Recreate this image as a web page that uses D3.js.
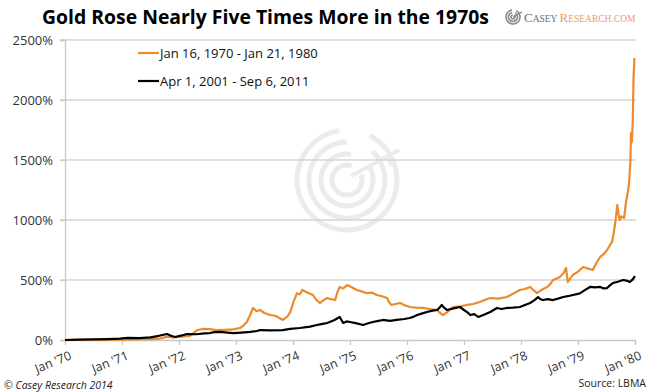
<!DOCTYPE html>
<html>
<head>
<meta charset="utf-8">
<script src="https://cdn.jsdelivr.net/npm/d3@7"></script>
<style>
  body { margin: 0; background: #fff; }
  text { font-family: "Open Sans", sans-serif; }
</style>
</head>
<body>
<div id="chart"></div>
<script>
// set the dimensions of the graph
const width = 653
const height = 392

// tick labels
const yTicks = [0, 500, 1000, 1500, 2000, 2500]
const xTickLabels = ["Jan '70", "Jan '71", "Jan '72", "Jan '73", "Jan '74", "Jan '75",
                     "Jan '76", "Jan '77", "Jan '78", "Jan '79", "Jan '80"]

// series names
const seriesNames = ["Jan 16, 1970 - Jan 21, 1980", "Apr 1, 2001 - Sep 6, 2011"]

// orange series: [years since start, % gain]
const gold70s = [
  [0, 0], [0.2, 1], [0.44, 2], [0.7, 1], [0.96, 3], [1.2, 6], [1.49, 8], [1.67, 12],
  [1.73, 20], [1.79, 27], [1.9, 22], [2.0, 25], [2.1, 30], [2.19, 35], [2.26, 60],
  [2.32, 83], [2.42, 92], [2.54, 90], [2.65, 82], [2.81, 85], [2.95, 88], [3.07, 100],
  [3.13, 120], [3.19, 150], [3.24, 200], [3.30, 267], [3.36, 240], [3.42, 250],
  [3.5, 225], [3.6, 208], [3.7, 200], [3.82, 167], [3.9, 195], [3.95, 230], [4.01, 320],
  [4.07, 390], [4.12, 380], [4.16, 417], [4.25, 395], [4.35, 375], [4.4, 340],
  [4.47, 308], [4.53, 330], [4.6, 350], [4.67, 340], [4.74, 333], [4.78, 400],
  [4.82, 442], [4.88, 430], [4.95, 458], [5.03, 440], [5.12, 417], [5.2, 405],
  [5.3, 390], [5.38, 395], [5.47, 375], [5.56, 365], [5.65, 350], [5.68, 320],
  [5.72, 292], [5.8, 300], [5.88, 308], [5.96, 290], [6.05, 275], [6.15, 270],
  [6.28, 267], [6.4, 258], [6.53, 250], [6.58, 225], [6.63, 208], [6.7, 230],
  [6.81, 275], [6.93, 280], [7.05, 292], [7.16, 300], [7.28, 317], [7.37, 335],
  [7.46, 350], [7.6, 345], [7.75, 358], [7.86, 385], [7.98, 417], [8.07, 425],
  [8.16, 442], [8.22, 415], [8.28, 390], [8.37, 420], [8.46, 442], [8.52, 470],
  [8.56, 500], [8.62, 510], [8.68, 525], [8.75, 560], [8.79, 600], [8.82, 483],
  [8.86, 510], [8.91, 542], [9.0, 570], [9.09, 608], [9.18, 595], [9.26, 583],
  [9.32, 640], [9.39, 692], [9.45, 715], [9.51, 750], [9.56, 790], [9.6, 820],
  [9.63, 900], [9.66, 1000], [9.69, 1125], [9.71, 1050], [9.73, 1000], [9.76, 1030],
  [9.81, 1017], [9.84, 1142], [9.88, 1250], [9.9, 1333], [9.92, 1500], [9.93, 1725],
  [9.945, 1650], [9.96, 1808], [9.975, 2192], [9.99, 2350]
]

// black series: [years since start, % gain]
const gold00s = [
  [0, 0], [0.25, 3], [0.5, 5], [0.75, 8], [0.96, 12], [1.1, 17], [1.3, 15], [1.5, 22],
  [1.65, 35], [1.79, 50], [1.86, 35], [1.93, 25], [2.05, 38], [2.14, 50], [2.3, 48],
  [2.45, 55], [2.54, 58], [2.62, 65], [2.72, 67], [2.85, 62], [2.95, 58], [3.1, 62],
  [3.25, 67], [3.37, 75], [3.42, 83], [3.6, 80], [3.82, 83], [3.95, 92], [4.12, 100],
  [4.3, 112], [4.42, 125], [4.52, 135], [4.6, 142], [4.72, 165], [4.82, 192],
  [4.88, 142], [4.94, 155], [5.0, 150], [5.12, 138], [5.23, 125], [5.32, 140],
  [5.4, 150], [5.5, 160], [5.58, 167], [5.7, 160], [5.82, 167], [5.95, 175],
  [6.05, 183], [6.12, 195], [6.18, 208], [6.27, 222], [6.35, 233], [6.45, 245],
  [6.53, 250], [6.58, 275], [6.61, 292], [6.66, 265], [6.7, 250], [6.8, 262],
  [6.93, 275], [7.0, 250], [7.06, 230], [7.11, 208], [7.18, 215], [7.25, 192],
  [7.35, 210], [7.46, 233], [7.52, 250], [7.58, 267], [7.66, 258], [7.75, 267],
  [7.86, 270], [7.98, 275], [8.07, 292], [8.16, 308], [8.23, 330], [8.3, 358],
  [8.34, 340], [8.39, 333], [8.47, 340], [8.56, 333], [8.65, 345], [8.74, 358],
  [8.82, 365], [8.91, 375], [8.98, 382], [9.04, 390], [9.12, 415], [9.21, 442],
  [9.3, 438], [9.39, 442], [9.45, 430], [9.51, 433], [9.56, 455], [9.61, 475],
  [9.7, 485], [9.79, 500], [9.85, 495], [9.91, 483], [9.96, 505], [10.0, 533]
]

const orange = "#ec8a2d"

const svg = d3.select("#chart")
  .append("svg")
    .attr("width", width)
    .attr("height", height)

const x = d3.scaleLinear().domain([0, 10]).range([65, 635])
const y = d3.scaleLinear().domain([0, 2500]).range([340, 40])

// watermark (spiral rings)
const wm = svg.append("g")
  .attr("transform", "translate(347,180)")
  .attr("fill", "none")
  .attr("stroke", "#ebebeb")
  .attr("stroke-width", 5)
const rings = [50, 38, 26, 15]
rings.forEach((r, i) => {
  const start = Math.PI * (0.15 + i * 0.08)
  const end = Math.PI * (1.95 + i * 0.05)
  const p = d3.path()
  p.arc(0, 0, r, start - Math.PI / 2, end - Math.PI / 2)
  wm.append("path").attr("d", p.toString())
})
wm.append("line")
  .attr("x1", 4).attr("y1", -4).attr("x2", 52).attr("y2", -30)
  .attr("stroke-width", 4)
wm.append("line")
  .attr("x1", 40).attr("y1", -24).attr("x2", 44).attr("y2", -14)
  .attr("stroke-width", 3)

// horizontal gridlines
svg.append("g")
  .selectAll("line")
  .data(yTicks.filter(d => d > 0))
  .join("line")
    .attr("x1", 60)
    .attr("x2", 636)
    .attr("y1", d => y(d))
    .attr("y2", d => y(d))
    .attr("stroke", "#d4d4d4")
    .attr("stroke-width", 1.3)

// left axis
const yAxis = svg.append("g")
  .attr("transform", "translate(65,0)")
  .call(d3.axisLeft(y).tickValues(yTicks).tickSize(5).tickPadding(7).tickFormat(d => d + "%"))
yAxis.select(".domain").attr("stroke", "#c8c8c8").attr("stroke-width", 1.3)
yAxis.selectAll(".tick line").attr("stroke", "#c8c8c8").attr("stroke-width", 1.3)
yAxis.selectAll("text")
  .attr("font-size", 13)
  .attr("fill", "#333")
  .style("font-family", "'Open Sans', sans-serif")

// bottom axis
const xAxis = svg.append("g")
  .attr("transform", "translate(0,340)")
  .call(d3.axisBottom(x).tickValues(d3.range(0, 11)).tickSize(5).tickFormat(""))
xAxis.select(".domain").attr("stroke", "#c8c8c8").attr("stroke-width", 1.3)
xAxis.selectAll(".tick line").attr("stroke", "#c8c8c8").attr("stroke-width", 1.3)

svg.append("g")
  .selectAll("text")
  .data(xTickLabels)
  .join("text")
    .attr("transform", (d, i) => `translate(${x(i) - 12},362) rotate(-22)`)
    .attr("text-anchor", "middle")
    .attr("dy", "0.35em")
    .attr("font-size", 12.5)
    .attr("fill", "#333")
    .text(d => d)

// lines
const line = d3.line()
  .x(d => x(d[0]))
  .y(d => y(d[1]))

svg.append("path")
  .datum(gold70s)
  .attr("fill", "none")
  .attr("stroke", orange)
  .attr("stroke-width", 2.2)
  .attr("stroke-linejoin", "round")
  .attr("d", line)

svg.append("path")
  .datum(gold00s)
  .attr("fill", "none")
  .attr("stroke", "#000")
  .attr("stroke-width", 2.2)
  .attr("stroke-linejoin", "round")
  .attr("d", line)

// legend
const legend = svg.append("g")
  .selectAll("g")
  .data(seriesNames)
  .join("g")
    .attr("transform", (d, i) => `translate(138,${53 + i * 28})`)
legend.append("line")
  .attr("x1", 0).attr("x2", 21)
  .attr("stroke", (d, i) => i === 0 ? orange : "#000")
  .attr("stroke-width", 2.2)
legend.append("text")
  .attr("x", 22)
  .attr("dy", "0.35em")
  .attr("font-size", 13)
  .attr("fill", "#111")
  .text(d => d)

// title
svg.append("text")
  .attr("x", 42)
  .attr("y", 24)
  .attr("font-size", 20)
  .attr("font-weight", 700)
  .attr("fill", "#000")
  .attr("textLength", 447)
  .attr("lengthAdjust", "spacingAndGlyphs")
  .text("Gold Rose Nearly Five Times More in the 1970s")

// logo
const logo = svg.append("g").attr("transform", "translate(513,17)")
const logoIcon = logo.append("g").attr("fill", "none").attr("stroke", "#8a8a8a")
;[7, 4.5, 2].forEach(r => {
  const p = d3.path()
  p.arc(0, 0, r, -Math.PI * 0.35, Math.PI * 1.45)
  logoIcon.append("path").attr("d", p.toString()).attr("stroke-width", 1.6)
})
logoIcon.append("line").attr("x1", 0).attr("y1", 0).attr("x2", 9).attr("y2", -5).attr("stroke-width", 1.4)
const logoText = logo.append("text")
  .attr("x", 11)
  .attr("y", 5)
  .style("font-family", "'Liberation Serif', serif")
logoText.append("tspan").attr("font-size", 13).attr("fill", "#6d6d6d").text("C")
logoText.append("tspan").attr("font-size", 9.5).attr("fill", "#6d6d6d").text("ASEY ")
logoText.append("tspan").attr("font-size", 13).attr("fill", "#e99b6a").text("R")
logoText.append("tspan").attr("font-size", 9.5).attr("fill", "#e99b6a").text("ESEARCH.COM")

// footer
svg.append("text")
  .attr("x", 4)
  .attr("y", 389)
  .attr("font-size", 10.5)
  .attr("font-style", "italic")
  .attr("fill", "#222")
  .text("© Casey Research 2014")

svg.append("text")
  .attr("x", 646)
  .attr("y", 387)
  .attr("text-anchor", "end")
  .attr("font-size", 10.5)
  .attr("fill", "#222")
  .text("Source: LBMA")
</script>
</body>
</html>
